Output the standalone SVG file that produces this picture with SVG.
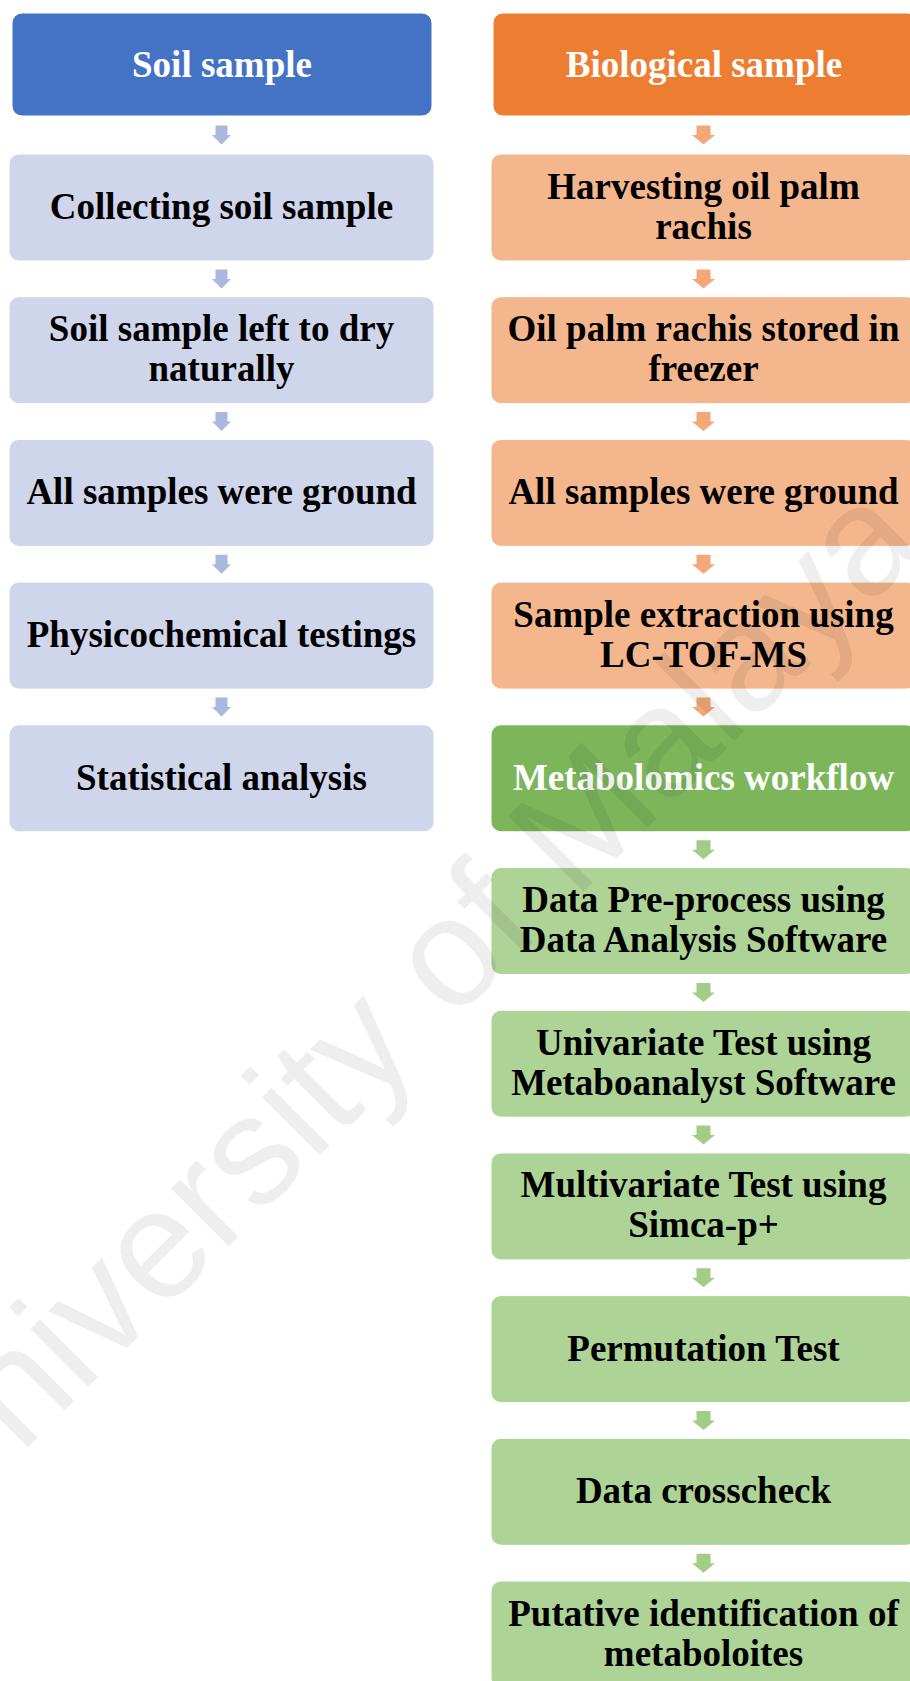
<svg xmlns="http://www.w3.org/2000/svg" width="910" height="1681" viewBox="0 0 910 1681">
<style>
.box{stroke:#ffffff;stroke-width:1}
.t{font-family:"Liberation Serif","Times New Roman",serif;font-weight:bold;font-size:37px;text-anchor:middle;fill:#000}
.w{fill:#ffffff}
.hb{fill:#4472C4}.lb{fill:#CFD5EA}.ab{fill:#AAB8DF}
.ho{fill:#ED7D31}.lo{fill:#F4B68C}.ao{fill:#F3A878}
.hg{fill:#7CB55A}.lg{fill:#AED396}.ag{fill:#A3CD87}
.wm{font-family:"Liberation Sans",Arial,sans-serif;font-size:155px;fill:#000;fill-opacity:0.065}
</style>
<rect width="910" height="1681" fill="#ffffff"/>
<g id="connectors">
<path class="ab" d="M215.5,125.5H227.5V135H231L221.5,144.5L212,135H215.5Z"/>
<path class="ab" d="M215.5,269.4H227.5V278.9H231L221.5,288.4L212,278.9H215.5Z"/>
<path class="ab" d="M215.5,412.1H227.5V421.6H231L221.5,431.1L212,421.6H215.5Z"/>
<path class="ab" d="M215.5,554.8H227.5V564.3H231L221.5,573.8L212,564.3H215.5Z"/>
<path class="ab" d="M215.5,697.5H227.5V707H231L221.5,716.5L212,707H215.5Z"/>
<path class="ao" d="M696.5,125.5H710.5V135H715L703.5,144.5L692,135H696.5Z"/>
<path class="ao" d="M696.5,269.4H710.5V278.9H715L703.5,288.4L692,278.9H696.5Z"/>
<path class="ao" d="M696.5,412.1H710.5V421.6H715L703.5,431.1L692,421.6H696.5Z"/>
<path class="ao" d="M696.5,554.8H710.5V564.3H715L703.5,573.8L692,564.3H696.5Z"/>
<path class="ao" d="M696.5,697.5H710.5V707H715L703.5,716.5L692,707H696.5Z"/>
<path class="ag" d="M696.5,840.2H710.5V849.7H715L703.5,859.2L692,849.7H696.5Z"/>
<path class="ag" d="M696.5,982.9H710.5V992.4H715L703.5,1001.9L692,992.4H696.5Z"/>
<path class="ag" d="M696.5,1125.6H710.5V1135.1H715L703.5,1144.6L692,1135.1H696.5Z"/>
<path class="ag" d="M696.5,1268.3H710.5V1277.8H715L703.5,1287.3L692,1277.8H696.5Z"/>
<path class="ag" d="M696.5,1411H710.5V1420.5H715L703.5,1430L692,1420.5H696.5Z"/>
<path class="ag" d="M696.5,1553.7H710.5V1563.2H715L703.5,1572.7L692,1563.2H696.5Z"/>
</g>
<g id="soil-sample"><rect class="box hb" x="12" y="13" width="420" height="103" rx="10"/><text class="t w" x="222" y="76.5">Soil sample</text></g>
<g id="collecting-soil"><rect class="box lb" x="9" y="154" width="425" height="107" rx="10"/><text class="t" x="221.5" y="219">Collecting soil sample</text></g>
<g id="soil-dry"><rect class="box lb" x="9" y="296.7" width="425" height="107" rx="10"/><text class="t" x="221.5" y="341.2">Soil sample left to dry</text><text class="t" x="221.5" y="381.2">naturally</text></g>
<g id="soil-ground"><rect class="box lb" x="9" y="439.4" width="425" height="107" rx="10"/><text class="t" x="221.5" y="504.4">All samples were ground</text></g>
<g id="physicochemical"><rect class="box lb" x="9" y="582.1" width="425" height="107" rx="10"/><text class="t" x="221.5" y="647.1">Physicochemical testings</text></g>
<g id="statistical"><rect class="box lb" x="9" y="724.8" width="425" height="107" rx="10"/><text class="t" x="221.5" y="789.8">Statistical analysis</text></g>
<g id="biological-sample"><rect class="box ho" x="493" y="13" width="424" height="103" rx="10"/><text class="t w" x="704" y="76.5">Biological sample</text></g>
<g id="harvesting"><rect class="box lo" x="491" y="154" width="425" height="107" rx="10"/><text class="t" x="703.5" y="198.5">Harvesting oil palm</text><text class="t" x="703.5" y="238.5">rachis</text></g>
<g id="freezer"><rect class="box lo" x="491" y="296.7" width="425" height="107" rx="10"/><text class="t" x="703.5" y="341.2">Oil palm rachis stored in</text><text class="t" x="703.5" y="381.2">freezer</text></g>
<g id="bio-ground"><rect class="box lo" x="491" y="439.4" width="425" height="107" rx="10"/><text class="t" x="703.5" y="504.4">All samples were ground</text></g>
<g id="extraction"><rect class="box lo" x="491" y="582.1" width="425" height="107" rx="10"/><text class="t" x="703.5" y="626.6">Sample extraction using</text><text class="t" x="703.5" y="666.6">LC-TOF-MS</text></g>
<g id="metabolomics"><rect class="box hg" x="491" y="724.8" width="425" height="107" rx="10"/><text class="t w" x="703.5" y="789.8">Metabolomics workflow</text></g>
<g id="preprocess"><rect class="box lg" x="491" y="867.5" width="425" height="107" rx="10"/><text class="t" x="703.5" y="912">Data Pre-process using</text><text class="t" x="703.5" y="952">Data Analysis Software</text></g>
<g id="univariate"><rect class="box lg" x="491" y="1010.2" width="425" height="107" rx="10"/><text class="t" x="703.5" y="1054.7">Univariate Test using</text><text class="t" x="703.5" y="1094.7">Metaboanalyst Software</text></g>
<g id="multivariate"><rect class="box lg" x="491" y="1152.9" width="425" height="107" rx="10"/><text class="t" x="703.5" y="1197.4">Multivariate Test using</text><text class="t" x="703.5" y="1237.4">Simca-p+</text></g>
<g id="permutation"><rect class="box lg" x="491" y="1295.6" width="425" height="107" rx="10"/><text class="t" x="703.5" y="1360.6">Permutation Test</text></g>
<g id="crosscheck"><rect class="box lg" x="491" y="1438.3" width="425" height="107" rx="10"/><text class="t" x="703.5" y="1503.3">Data crosscheck</text></g>
<g id="putative"><rect class="box lg" x="491" y="1581" width="425" height="107" rx="10"/><text class="t" x="703.5" y="1625.5">Putative identification of</text><text class="t" x="703.5" y="1665.5">metaboloites</text></g>
<text class="wm" x="-59" y="1534" transform="rotate(-45 -59 1534)">University of Malaya</text>
</svg>
